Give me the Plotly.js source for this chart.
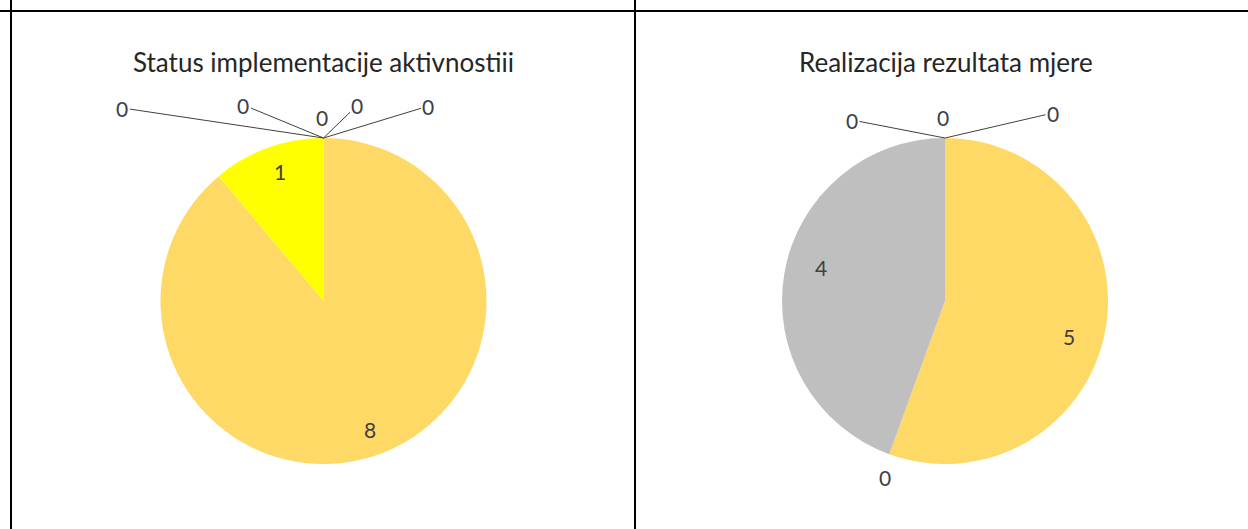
<!DOCTYPE html>
<html><head><meta charset="utf-8">
<script src="https://cdn.plot.ly/plotly-3.0.1.min.js"></script>
<style>html,body{margin:0;padding:0;background:#fff}#chart{width:1248px;height:529px}</style>
</head><body><div id="chart"></div>
<script>
// ---- data ----
const leftTitle = 'Status implementacije aktivnostiii';
const leftCategories = ['Kategorija 1','Kategorija 2','Kategorija 3','Kategorija 4','Kategorija 5','Kategorija 6','Kategorija 7'];
const leftValues = [8, 1, 0, 0, 0, 0, 0];

const rightTitle = 'Realizacija rezultata mjere';
const rightCategories = ['Kategorija 1','Kategorija 2','Kategorija 3','Kategorija 4','Kategorija 5','Kategorija 6'];
const rightValues = [5, 0, 4, 0, 0, 0];

// ---- style ----
const W = 1248, H = 529;
const FONT = 'Lato, "Noto Sans", sans-serif';
const TXT = '#404040';
const leftColors = ['#FFD966', '#FFFF00', '#5B9BD5', '#ED7D31', '#A5A5A5', '#4472C4', '#70AD47'];
const rightColors = ['#FFD966', '#ED7D31', '#BFBFBF', '#5B9BD5', '#4472C4', '#70AD47'];

// pie placement in pixels
const leftPie = {x0: 160, x1: 487, y0: 138, y1: 464};
const rightPie = {x0: 781, x1: 1109, y0: 138, y1: 464};

// label radius (fraction of pie radius) and small pixel nudges for non-zero labels
const leftLabelNudge = [[1,3],[2,-4]];
const rightLabelNudge = [[-8,12],[0,0],[8,-10]];
const LABEL_R = 0.82;

// zero-label offsets (px from slice anchor) and whether a leader line is drawn
const leftZeroOffsets = [[-201,-30,true],[-80,-33,true],[-1,-21,false],[34,-33,true],[105,-32,true]];
const rightZeroOffsets = [[-4,23,false],[-93,-18,true],[-2,-21,false],[108,-25,true]];

function domainOf(p){
  return {x:[p.x0/W, p.x1/W], y:[1-p.y1/H, 1-p.y0/H]};
}
function pieTrace(labels, values, colors, p){
  return {
    type:'pie', labels:labels, values:values, sort:false, direction:'clockwise', rotation:0,
    domain:domainOf(p), marker:{colors:colors, line:{width:0}},
    textinfo:'none', hoverinfo:'none', showlegend:false
  };
}
function valueAnnotations(values, p, zeroOffsets, nudges){
  const total = values.reduce((a,b)=>a+b,0);
  const cx=(p.x0+p.x1)/2, cy=(p.y0+p.y1)/2, R=Math.min(p.x1-p.x0,p.y1-p.y0)/2;
  const out=[]; let cum=0, k=0;
  values.forEach((v,i)=>{
    if(v===0){
      const th = 2*Math.PI*cum/total;
      const px = cx + R*Math.sin(th), py = cy - R*Math.cos(th);
      const o = zeroOffsets[k++] || [0,-20,false];
      out.push({x:px/W, y:1-py/H, xref:'paper', yref:'paper', text:String(v),
        showarrow:true, ax:o[0], ay:o[1], arrowhead:0, arrowwidth:1, standoff:0, startstandoff:0,
        arrowcolor: o[2] ? '#404040' : 'rgba(0,0,0,0)',
        font:{family:FONT, size:21, color:TXT}});
    } else {
      const th = 2*Math.PI*(cum + v/2)/total;
      const n = nudges[i] || [0,0];
      const px = cx + LABEL_R*R*Math.sin(th) + n[0], py = cy - LABEL_R*R*Math.cos(th) + n[1];
      out.push({x:px/W, y:1-py/H, xref:'paper', yref:'paper', text:String(v), showarrow:false,
        xanchor:'center', yanchor:'middle', font:{family:FONT, size:21, color:TXT}});
    }
    cum += v;
  });
  return out;
}

const annotations = [
  {x:((leftPie.x0+leftPie.x1)/2)/W, y:1-62/H, xref:'paper', yref:'paper', text:leftTitle, showarrow:false,
   xanchor:'center', yanchor:'middle', font:{family:FONT, size:26, color:'#262626'}},
  {x:946/W, y:1-62/H, xref:'paper', yref:'paper', text:rightTitle, showarrow:false,
   xanchor:'center', yanchor:'middle', font:{family:FONT, size:26, color:'#262626'}}
].concat(valueAnnotations(leftValues, leftPie, leftZeroOffsets, leftLabelNudge))
 .concat(valueAnnotations(rightValues, rightPie, rightZeroOffsets, rightLabelNudge));

const shapes = [
  {type:'line', xref:'paper', yref:'paper', x0:0, x1:1, y0:1-11/H, y1:1-11/H, line:{color:'#000', width:2}},
  {type:'line', xref:'paper', yref:'paper', x0:11/W, x1:11/W, y0:0, y1:1, line:{color:'#000', width:2}},
  {type:'line', xref:'paper', yref:'paper', x0:635/W, x1:635/W, y0:0, y1:1, line:{color:'#000', width:2}}
];

Plotly.newPlot('chart', [
  pieTrace(leftCategories, leftValues, leftColors, leftPie),
  pieTrace(rightCategories, rightValues, rightColors, rightPie)
], {
  width:W, height:H, margin:{l:0,r:0,t:0,b:0}, paper_bgcolor:'#fff',
  showlegend:false, annotations:annotations, shapes:shapes, font:{family:FONT}
}, {staticPlot:true, displayModeBar:false});
</script></body></html>
